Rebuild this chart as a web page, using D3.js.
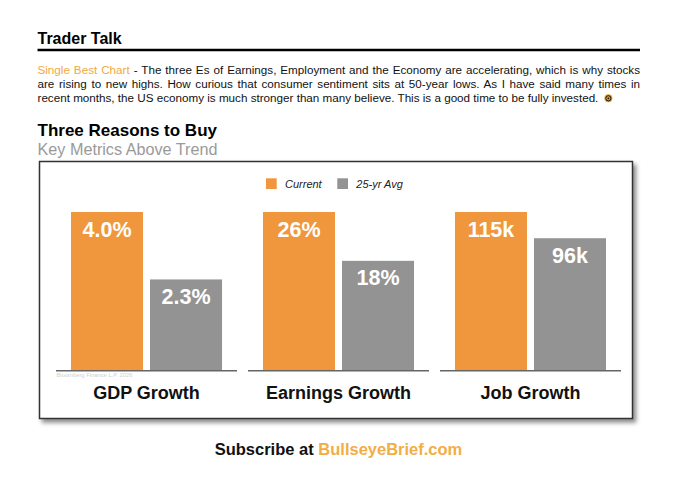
<!DOCTYPE html>
<html>
<head>
<meta charset="utf-8">
<script src="https://cdn.jsdelivr.net/npm/d3@7"></script>
<style>
  html, body { margin: 0; padding: 0; background: #fff; }
  svg { display: block; }
  text { font-family: "Liberation Sans", Arial, Helvetica, sans-serif; }
</style>
</head>
<body>
<svg id="chart" width="680" height="486"></svg>
<script>
// ---- data ----
const categories = ["GDP Growth", "Earnings Growth", "Job Growth"];
const seriesNames = ["Current", "25-yr Avg"];
const currentValues = [4.0, 26, 115];
const avgValues = [2.3, 18, 96];
const currentLabels = ["4.0%", "26%", "115k"];
const avgLabels = ["2.3%", "18%", "96k"];

const paragraphLines = [
  ["Single Best Chart", " - The three Es of Earnings, Employment and the Economy are accelerating, which is why stocks"],
  ["", "are rising to new highs. How curious that consumer sentiment sits at 50-year lows. As I have said many times in"],
  ["", "recent months, the US economy is much stronger than many believe. This is a good time to be fully invested."]
];

const ORANGE = "#F0973D";
const GRAY = "#939393";
const svg = d3.select("#chart");

// ---- header ----
svg.append("text").attr("x", 37.5).attr("y", 44).attr("font-size", 16)
  .attr("font-weight", "bold").attr("fill", "#000").text("Trader Talk");
svg.append("line").attr("x1", 37.5).attr("x2", 640).attr("y1", 50).attr("y2", 50)
  .attr("stroke", "#000").attr("stroke-width", 2.6);

// paragraph
const left = 37.5, right = 640;
const lineYs = [74, 88, 102];
const pLines = paragraphLines.map((ln, i) => {
  const t = svg.append("text").attr("x", left).attr("y", lineYs[i]).attr("font-size", 11).attr("fill", "#111");
  if (ln[0]) t.append("tspan").attr("fill", "#F0A844").text(ln[0]);
  t.append("tspan").text(ln[1]);
  return t;
});
const natural = pLines[2].node().getComputedTextLength();
const fs = 11 * 562 / natural;
pLines.forEach(t => t.attr("font-size", fs));
[0, 1].forEach(i => {
  const t = pLines[i];
  const w = t.node().getComputedTextLength();
  const full = paragraphLines[i][0] + paragraphLines[i][1];
  const spaces = (full.match(/ /g) || []).length;
  t.attr("word-spacing", (right - left - w) / spaces);
});
const lastEnd = left + pLines[2].node().getComputedTextLength();
const icon = svg.append("g").attr("transform", `translate(${lastEnd + 10},${98.3})`);
icon.append("circle").attr("r", 4).attr("fill", "#E8A33A");
icon.append("circle").attr("r", 2.6).attr("fill", "none").attr("stroke", "#111").attr("stroke-width", 1);
icon.append("circle").attr("r", 0.9).attr("fill", "#111");

svg.append("text").attr("x", 37.5).attr("y", 135.5).attr("font-size", 17)
  .attr("font-weight", "bold").attr("fill", "#000").text("Three Reasons to Buy");
svg.append("text").attr("x", 37.5).attr("y", 154.5).attr("font-size", 16.2)
  .attr("fill", "#9a9a9a").text("Key Metrics Above Trend");

// ---- chart box ----
const defs = svg.append("defs");
const f = defs.append("filter").attr("id", "shadow").attr("x", "-5%").attr("y", "-5%")
  .attr("width", "115%").attr("height", "120%");
f.append("feDropShadow").attr("dx", 3).attr("dy", 3.5).attr("stdDeviation", 2.2)
  .attr("flood-color", "#000").attr("flood-opacity", 0.45);
svg.append("rect").attr("x", 39.5).attr("y", 161.5).attr("width", 593).attr("height", 257)
  .attr("fill", "#fff").attr("stroke", "#333").attr("stroke-width", 1.5).attr("filter", "url(#shadow)");

// legend
const legend = svg.append("g");
const legendX = [266, 337.3];
seriesNames.forEach((s, i) => {
  legend.append("rect").attr("x", legendX[i]).attr("y", 178.3).attr("width", 10.7).attr("height", 10.7)
    .attr("fill", i === 0 ? ORANGE : GRAY);
  legend.append("text").attr("x", legendX[i] + 19).attr("y", 187.7).attr("font-size", 11)
    .attr("font-style", "italic").attr("fill", "#222").text(s);
});

// scales
const baseY = 370.7, topY = 212;
const xPanel = d3.scaleBand().domain(categories).range([56, 621]).paddingInner(0.057);
const xInner = d3.scaleBand().domain(seriesNames).range([15, xPanel.bandwidth() - 15]).paddingInner(0.0886);

categories.forEach((c, i) => {
  const y = d3.scaleLinear().domain([0, currentValues[i]]).range([baseY, topY]);
  const g = svg.append("g").attr("transform", `translate(${xPanel(c)},0)`);
  const vals = [currentValues[i], avgValues[i]];
  const labs = [currentLabels[i], avgLabels[i]];
  seriesNames.forEach((s, j) => {
    g.append("rect").attr("x", xInner(s)).attr("y", y(vals[j]))
      .attr("width", xInner.bandwidth()).attr("height", baseY - y(vals[j]))
      .attr("fill", j === 0 ? ORANGE : GRAY);
    g.append("text").attr("x", xInner(s) + xInner.bandwidth() / 2).attr("y", y(vals[j]) + 24.5)
      .attr("text-anchor", "middle").attr("font-size", 21.5).attr("font-weight", "bold")
      .attr("fill", "#fff").text(labs[j]);
  });
  g.append("line").attr("x1", 0).attr("x2", xPanel.bandwidth()).attr("y1", baseY).attr("y2", baseY)
    .attr("stroke", "#666").attr("stroke-width", 1.5);
  g.append("text").attr("x", xPanel.bandwidth() / 2).attr("y", 399.3).attr("text-anchor", "middle")
    .attr("font-size", 18).attr("font-weight", "bold").attr("fill", "#111").text(c);
});

svg.append("text").attr("x", 56.5).attr("y", 377).attr("font-size", 5.8).attr("fill", "#cfcfcf")
  .text("Bloomberg Finance L.P. 2026");

// footer
const foot = svg.append("text").attr("x", 338.5).attr("y", 455).attr("text-anchor", "middle")
  .attr("font-size", 16.5).attr("font-weight", "bold");
foot.append("tspan").attr("fill", "#111").text("Subscribe at ");
foot.append("tspan").attr("fill", "#F2AE45").text("BullseyeBrief.com");
</script>
</body>
</html>
